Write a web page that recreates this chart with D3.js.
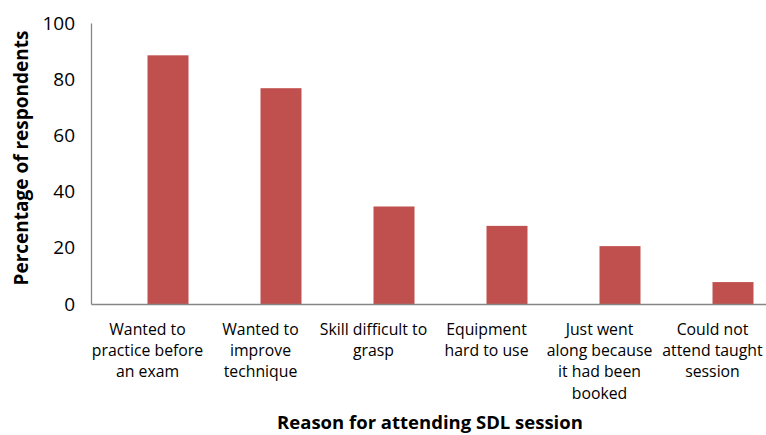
<!DOCTYPE html>
<html>
<head>
<meta charset="utf-8">
<script src="https://cdn.jsdelivr.net/npm/d3@7"></script>
<style>
  body { margin: 0; background: #fff; }
  svg { display: block; font-family: "Open Sans", sans-serif; }
</style>
</head>
<body>
<script>
// reasons, one entry per bar (lines as they wrap under the axis)
var categories = [
  ["Wanted to", "practice before", "an exam"],
  ["Wanted to", "improve", "technique"],
  ["Skill difficult to", "grasp"],
  ["Equipment", "hard to use"],
  ["Just went", "along because", "it had been", "booked"],
  ["Could not", "attend taught", "session"]
];
var values = [88.5, 76.8, 34.7, 27.8, 20.6, 7.8];
var yTicks = [0, 20, 40, 60, 80, 100];

var W = 766, H = 435;
var margin = {left: 91, top: 23, right: -3, bottom: 131};

var svg = d3.select("body").append("svg")
  .attr("width", W)
  .attr("height", H);

var x = d3.scaleBand()
  .domain(d3.range(categories.length))
  .range([margin.left, W - margin.right])
  .padding(0);

var y = d3.scaleLinear()
  .domain([0, 100])
  .range([H - margin.bottom, margin.top]);

// bars sit in the right half of each category slot (empty first series)
var barW = x.bandwidth() * 41 / 113;

svg.append("g")
  .selectAll("rect")
  .data(values)
  .enter()
  .append("rect")
  .attr("x", (d, i) => x(i) + x.bandwidth() / 2)
  .attr("y", d => y(d))
  .attr("width", barW)
  .attr("height", d => y(0) - y(d))
  .attr("fill", "#c0504d");

// y axis
var yAxis = svg.append("g")
  .attr("transform", "translate(" + margin.left + ",0)")
  .call(d3.axisLeft(y).tickValues(yTicks).tickSize(0).tickPadding(16));
yAxis.select(".domain").attr("stroke", "#868686").attr("stroke-width", 1.3);
yAxis.selectAll("text")
  .attr("font-family", "Open Sans, sans-serif")
  .attr("font-size", 19)
  .attr("fill", "#000");

// x axis
var xAxis = svg.append("g")
  .attr("transform", "translate(0," + y(0) + ")")
  .call(d3.axisBottom(x).tickSize(0).tickFormat(""));
xAxis.select(".domain").attr("stroke", "#868686").attr("stroke-width", 1.3);

// category labels, wrapped
var labels = svg.append("g")
  .attr("font-size", 15.8)
  .attr("text-anchor", "middle")
  .attr("fill", "#000");
categories.forEach((lines, i) => {
  var t = labels.append("text")
    .attr("x", x(i) + x.bandwidth() / 2)
    .attr("y", 335);
  lines.forEach((ln, j) => {
    t.append("tspan")
      .attr("x", x(i) + x.bandwidth() / 2)
      .attr("y", 335 + j * 21.2)
      .text(ln);
  });
});

// axis titles
svg.append("text")
  .attr("x", (margin.left + W - margin.right) / 2)
  .attr("y", 429)
  .attr("text-anchor", "middle")
  .attr("font-weight", "bold")
  .attr("font-size", 18.5)
  .text("Reason for attending SDL session");

svg.append("text")
  .attr("transform", "translate(28,158) rotate(-90)")
  .attr("text-anchor", "middle")
  .attr("font-weight", "bold")
  .attr("font-size", 19)
  .text("Percentage of respondents");
</script>
</body>
</html>
